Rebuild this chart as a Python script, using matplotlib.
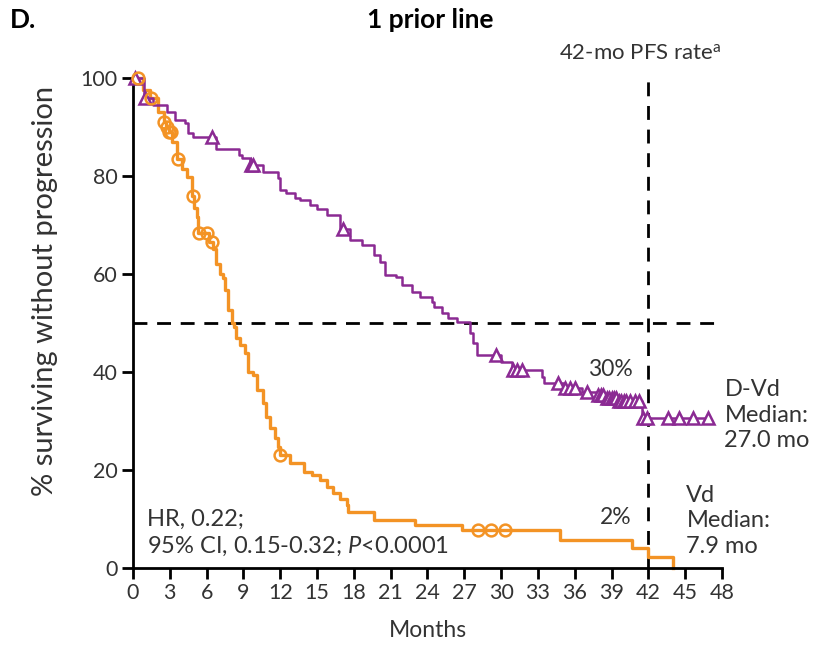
import matplotlib
matplotlib.use("Agg")
import matplotlib.pyplot as plt
import numpy as np

plt.rcParams["font.family"] = ["Lato", "DejaVu Sans"]
plt.rcParams["mathtext.fontset"] = "custom"
plt.rcParams["mathtext.rm"] = "Lato"
plt.rcParams["mathtext.it"] = "Lato:italic"

PURPLE = "#8B2A93"
ORANGE = "#F39325"
TEXT = "#333333"

# D-Vd: step start times (months) and % surviving without progression
dvd_t = [0, 0.9, 1.6, 2.8, 3.4, 4.2, 4.5, 4.9, 6.8, 8.6, 8.9, 9.5, 10.6, 11.8, 12.0,
         12.5, 13.2, 13.6, 14.4, 15.0, 15.8, 16.9, 17.7, 18.7, 19.6, 20.1, 20.5, 21.4,
         21.9, 22.7, 23.4, 24.4, 24.5, 25.2, 25.7, 26.4, 27.5, 27.7, 28.0, 30.0, 30.9,
         33.3, 33.5, 35.1, 36.6, 37.8, 38.5, 39.5, 41.5]
dvd_s = [100, 96, 94.5, 93, 91.5, 90.8, 88.8, 88, 85.5, 84.3, 83.7, 82.2, 80.8, 79.6, 77.1,
         76.5, 75.5, 75.0, 74.1, 73.2, 72.0, 69.2, 67, 65.9, 63.9, 62.4, 59.8, 59.4,
         57.8, 56.3, 55.3, 54.3, 53.3, 52.0, 51.0, 50.2, 48, 46, 43.5, 42, 40.4,
         39, 37.8, 36.7, 36.0, 35.3, 34.6, 34.0, 30.6]
dvd_end = 46.9
dvd_cens = [0.2, 1.0, 6.4, 9.6, 9.8, 17.1, 29.6, 31.0, 31.3, 31.7, 34.6, 35.2, 35.6,
            36.0, 37.0, 37.9, 38.1, 38.3, 38.6, 38.8, 39.0, 39.2, 39.4, 39.6, 39.8,
            40.0, 40.2, 40.5, 40.9, 41.2, 41.6, 41.9, 43.6, 44.5, 45.6, 46.9]

# Vd
vd_t = [0, 0.8, 1.4, 2.0, 2.5, 2.7, 2.9, 3.2, 3.6, 4.0, 4.4, 4.8, 5.0, 5.2, 5.3,
        6.2, 6.5, 6.8, 7.1, 7.3, 7.5, 7.75, 8.1, 8.2, 8.4, 8.7, 9.1, 9.4, 9.8, 10.1,
        10.6, 10.8, 11.2, 11.6, 11.8, 11.95, 12.8, 13.9, 14.6, 15.2, 15.8, 16.3, 16.9,
        17.4, 17.5, 19.6, 23.0, 26.8, 34.8, 40.7, 42.0, 44.0]
vd_s = [100, 97.5, 96, 93, 91, 90, 89, 87, 83.5, 81.5, 79.8, 76, 73.5, 71.6, 68.4,
        66.5, 65, 62, 60, 59.2, 56.7, 52.7, 50, 49.2, 47, 45.5, 43.9, 40, 39.4, 36.3,
        33.7, 30.8, 28.6, 26.5, 24.7, 23, 21.4, 19.6, 19, 18, 16.5, 15.3, 14,
        12.9, 11.4, 9.8, 8.8, 7.8, 5.7, 4.1, 2.2, 0]
vd_end = 44.0
vd_cens = [0.4, 1.5, 2.55, 2.75, 2.95, 3.1, 3.7, 4.85, 5.35, 6.0, 6.45, 12.0,
           28.1, 29.2, 30.3]

x_ticks = np.arange(0, 49, 3)
y_ticks = np.arange(0, 101, 20)


def level_at(t_steps, s_steps, t):
    idx = np.searchsorted(t_steps, t, side="right") - 1
    return np.asarray(s_steps)[idx]


fig = plt.figure(figsize=(8.17, 6.46), dpi=100)
ax = fig.add_axes([0.1628, 0.1207, 0.7209, 0.7586])

# reference lines
dash = (0, (5, 3.5))
ax.axhline(50, color="black", linestyle=dash, lw=2, zorder=1)
ax.plot([42, 42], [0, 100], color="black", linestyle=dash, lw=2, zorder=1,
        clip_on=False)

# curves
ax.step(dvd_t + [dvd_end], dvd_s + [dvd_s[-1]], where="post", color=PURPLE, lw=1.8,
        zorder=3, clip_on=False)
ax.step(vd_t + [vd_end], vd_s + [vd_s[-1]], where="post", color=ORANGE, lw=2.4,
        zorder=2, clip_on=False)

ax.plot(dvd_cens, level_at(dvd_t, dvd_s, dvd_cens), linestyle="none", marker="^",
        ms=9, mfc="white", mec=PURPLE, mew=1.8, zorder=4, clip_on=False)
ax.plot(vd_cens, level_at(vd_t, vd_s, vd_cens), linestyle="none", marker="o",
        ms=8.5, mfc="none", mec=ORANGE, mew=1.8, zorder=4, clip_on=False)

ax.set_xlim(0, 48)
ax.set_ylim(0, 100)
ax.set_xticks(x_ticks)
ax.set_yticks(y_ticks)
for side in ("top", "right"):
    ax.spines[side].set_visible(False)
for side in ("left", "bottom"):
    ax.spines[side].set_linewidth(2)
ax.tick_params(direction="out", length=8, width=2, labelsize=15.5, labelcolor=TEXT,
               pad=3)
ax.set_xlabel("Months", fontsize=16.5, color=TEXT, labelpad=12)
ax.set_ylabel("% surviving without progression", fontsize=21, color=TEXT)
ax.yaxis.set_label_coords(-0.128, 0.565)

# annotations
fig.text(0.012, 0.969, "D.", fontsize=19, fontweight="bold", va="center", ha="left")
fig.text(0.527, 0.969, "1 prior line", fontsize=19, fontweight="bold", va="center",
         ha="center")
ax.text(41.3, 105, r"42-mo PFS rate$^{\mathrm{a}}$", fontsize=16, color=TEXT,
        ha="center", va="center", clip_on=False)
ax.text(38.9, 40.6, "30%", fontsize=16.5, color=TEXT, ha="center", va="center")
ax.text(39.3, 10.4, "2%", fontsize=16.5, color=TEXT, ha="center", va="center")
ax.text(48.2, 31.2, "D-Vd\nMedian:\n27.0 mo", fontsize=17, color=TEXT, ha="left",
        va="center", linespacing=1.25, clip_on=False)
ax.text(45.1, 9.6, "Vd\nMedian:\n7.9 mo", fontsize=17, color=TEXT, ha="left",
        va="center", linespacing=1.25, clip_on=False)
ax.text(1.15, 7.1, "HR, 0.22;\n95% CI, 0.15-0.32; $P$<0.0001", fontsize=17,
        color=TEXT, ha="left", va="center", linespacing=1.25)

fig.savefig("out.png", dpi=100)
